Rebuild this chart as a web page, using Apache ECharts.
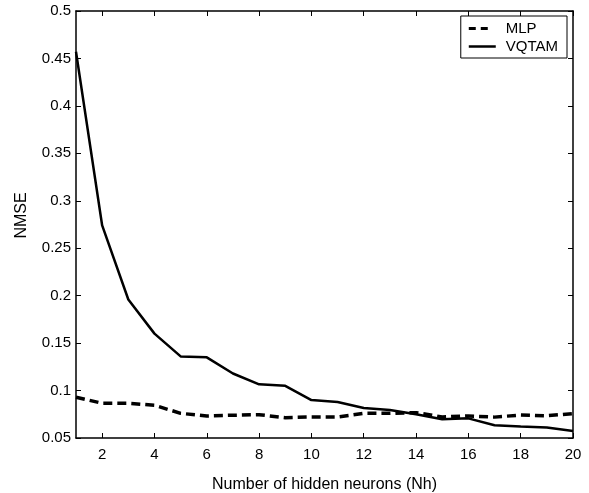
<!DOCTYPE html>
<html><head><meta charset="utf-8">
<script src="https://cdn.jsdelivr.net/npm/echarts@6/dist/echarts.min.js"></script>
<style>html,body{margin:0;padding:0;background:#fff}#c{width:589px;height:493px}</style>
</head><body><div id="c"></div>
<script>
const neurons = [1,2,3,4,5,6,7,8,9,10,11,12,13,14,15,16,17,18,19,20];
const mlp = [0.093,0.0866,0.0866,0.0845,0.076,0.0732,0.074,0.0746,0.0714,0.0722,0.0722,0.076,0.076,0.0767,0.0722,0.0732,0.072,0.0742,0.0735,0.0756];
const vqtam = [0.457,0.274,0.196,0.160,0.136,0.135,0.118,0.1066,0.105,0.090,0.088,0.0816,0.0795,0.075,0.0697,0.0707,0.0634,0.062,0.061,0.0574];
const xTicks = [2,4,6,8,10,12,14,16,18,20];

const font = 'Liberation Sans, Arial, sans-serif';
const chart = echarts.init(document.getElementById('c'), null, {renderer:'canvas'});
const axLine = {show:true, lineStyle:{color:'#000', width:1.5}};
chart.setOption({
  animation:false,
  grid:{left:76, right:16, top:11, bottom:55, containLabel:false, outerBoundsMode:'none'},
  legend:{
    orient:'vertical', right:22, top:16, itemWidth:27, itemHeight:3, itemGap:3,
    borderColor:'#000', borderWidth:1, padding:[5,9,4,8], backgroundColor:'#fff',
    textStyle:{fontFamily:font, fontSize:15, color:'#000', padding:[0,0,0,5], lineHeight:15},
    data:[
      {name:'MLP', icon:'path://M0,0h7v3h-7zM12,0h7v3h-7zM27,1.49h0.02v0.02h-0.02z'},
      {name:'VQTAM', icon:'path://M0,0.25h27v2.5h-27z'}
    ]
  },
  xAxis:[{
    type:'value', min:1, max:20, position:'bottom',
    name:'Number of hidden neurons (Nh)', nameLocation:'middle', nameGap:39,
    nameTextStyle:{fontFamily:font, fontSize:16, color:'#000'},
    axisLine:axLine,
    axisTick:{show:true, inside:true, length:5, customValues:xTicks, lineStyle:{color:'#000'}},
    axisLabel:{customValues:xTicks, fontFamily:font, fontSize:15, color:'#000', margin:9},
    splitLine:{show:false}
  },{
    type:'value', min:1, max:20, position:'top',
    axisLine:axLine,
    axisTick:{show:true, inside:true, length:5, customValues:xTicks, lineStyle:{color:'#000'}},
    axisLabel:{show:false}, splitLine:{show:false}
  }],
  yAxis:[{
    type:'value', min:0.05, max:0.5, interval:0.05, position:'left',
    name:'NMSE', nameLocation:'middle', nameGap:46, nameRotate:90,
    nameTextStyle:{fontFamily:font, fontSize:16, color:'#000', padding:[0,0,0,18]},
    axisLine:axLine,
    axisTick:{show:true, inside:true, length:5, lineStyle:{color:'#000'}},
    axisLabel:{fontFamily:font, fontSize:15, color:'#000', margin:5,
      formatter:v=>String(parseFloat(v.toFixed(2)))},
    splitLine:{show:false}
  },{
    type:'value', min:0.05, max:0.5, interval:0.05, position:'right',
    axisLine:axLine,
    axisTick:{show:true, inside:true, length:5, lineStyle:{color:'#000'}},
    axisLabel:{show:false}, splitLine:{show:false}
  }],
  series:[
    {name:'MLP', type:'line', showSymbol:false, symbol:'none',
     data:neurons.map((x,i)=>[x,mlp[i]]),
     lineStyle:{color:'#000', width:3.5, type:[9,5]}, itemStyle:{color:'#000'}},
    {name:'VQTAM', type:'line', showSymbol:false, symbol:'none',
     data:neurons.map((x,i)=>[x,vqtam[i]]),
     lineStyle:{color:'#000', width:2.5}, itemStyle:{color:'#000'}}
  ]
});
</script></body></html>
